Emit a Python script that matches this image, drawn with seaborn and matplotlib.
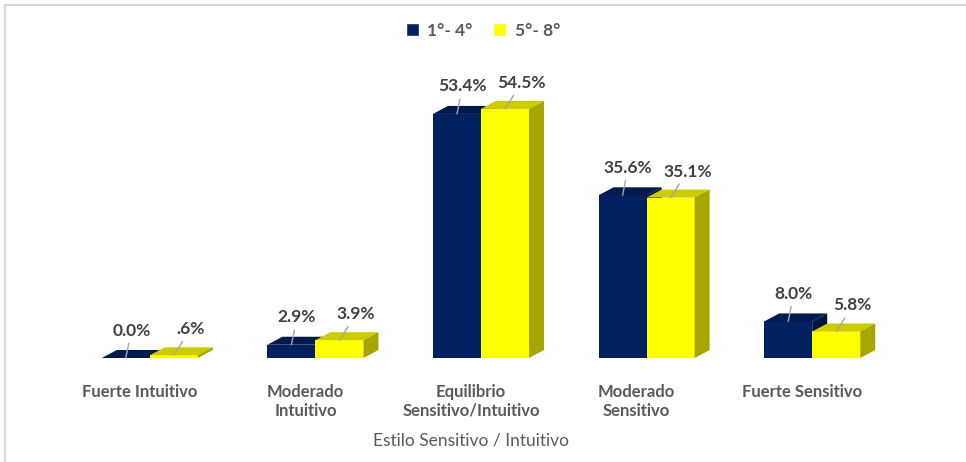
import numpy as np
import pandas as pd
import matplotlib
matplotlib.use("Agg")
import matplotlib.pyplot as plt
import seaborn as sns
from matplotlib.patches import Polygon, Patch, Rectangle
from matplotlib.transforms import ScaledTranslation

categorias = ["Fuerte Intuitivo", "Moderado\nIntuitivo", "Equilibrio\nSensitivo/Intuitivo",
              "Moderado\nSensitivo", "Fuerte Sensitivo"]
grupos = ["1°- 4°", "5°- 8°"]
valores_1_4 = [0.0, 2.9, 53.4, 35.6, 8.0]
valores_5_8 = [0.6, 3.9, 54.5, 35.1, 5.8]

navy = "#002060"
yellow = "#FFFF00"
caras = {navy: ("#001A50", "#001440"), yellow: ("#CCCC00", "#A6A600")}
gris = "#595959"


def etiqueta(v):
    s = f"{v:.1f}%"
    return s[1:] if 0 < v < 1 else s


df = pd.DataFrame({
    "categoria": categorias * 2,
    "grupo": [grupos[0]] * 5 + [grupos[1]] * 5,
    "valor": valores_1_4 + valores_5_8,
})

sns.set_style("white")
plt.rcParams["font.family"] = ["Lato", "DejaVu Sans"]

fig = plt.figure(figsize=(9.66, 4.62), dpi=100)
ax = fig.add_axes([67 / 966, 1 - 358 / 462, 828 / 966, 298 / 462])
sns.barplot(data=df, x="categoria", y="valor", hue="grupo", palette=[navy, yellow],
            width=0.58, saturation=1, legend=False, ax=ax)
ytop = 65.2
ax.set_xlim(-0.5, 4.5)
ax.set_ylim(0, ytop)

# desplazamiento 3D en pixeles -> datos
dx = 15 / (828 / 5)
dy = 8 / (298 / ytop)

for i, p in enumerate(ax.patches):
    color = navy if i < 5 else yellow
    z = 2 if i < 5 else 3
    p.set_zorder(z)
    p.set_edgecolor("none")
    x0, w, h = p.get_x(), p.get_width(), p.get_height()
    top_c, side_c = caras[color]
    top = Polygon([(x0, h), (x0 + w, h), (x0 + w + dx, h + dy), (x0 + dx, h + dy)],
                  closed=True, facecolor=top_c, edgecolor="none", zorder=z + 0.1)
    side = Polygon([(x0 + w, 0), (x0 + w + dx, dy), (x0 + w + dx, h + dy), (x0 + w, h)],
                   closed=True, facecolor=side_c, edgecolor="none", zorder=z + 0.2)
    ax.add_patch(top)
    ax.add_patch(side)
    v = valores_1_4[i] if i < 5 else valores_5_8[i - 5]
    off = (4, 14) if i < 5 else (12, 13)
    ax.annotate(etiqueta(v), xy=(x0 + w / 2, h), xytext=off, textcoords="offset points",
                ha="center", va="bottom", fontsize=12.5, fontweight="bold", color="#404040",
                arrowprops=dict(arrowstyle="-", color="#A6A6A6", lw=1, shrinkA=1, shrinkB=0),
                zorder=5)

ax.set_xticks(range(5))
ax.set_xticklabels(categorias, fontsize=12, fontweight="bold", color=gris)
ax.tick_params(axis="x", length=0, pad=19)
for lbl in ax.get_xticklabels():
    lbl.set_transform(lbl.get_transform() + ScaledTranslation(-10 / 100, 0, fig.dpi_scale_trans))
ax.set_yticks([])
ax.set_ylabel("")
ax.set_xlabel("Estilo Sensitivo / Intuitivo", fontsize=12.5, color=gris)
ax.xaxis.set_label_coords(0.5 - 10 / 828, -0.25)
sns.despine(ax=ax, left=True, bottom=True)

handles = [Patch(facecolor=navy, label=grupos[0]), Patch(facecolor=yellow, label=grupos[1])]
leg = fig.legend(handles=handles, loc="upper center", bbox_to_anchor=(0.5, 0.985), ncol=2,
                 frameon=False, handlelength=0.75, handleheight=0.75, handletextpad=0.5,
                 columnspacing=1.2, prop={"size": 12.5, "weight": "bold"})
for t in leg.get_texts():
    t.set_color(gris)

fig.patches.append(Rectangle((5 / 966, -0.1), 1.1, 1.1 - 5 / 462, transform=fig.transFigure,
                             fill=False, edgecolor="#D9D9D9", lw=1.5))

fig.savefig("out.png", dpi=100)
